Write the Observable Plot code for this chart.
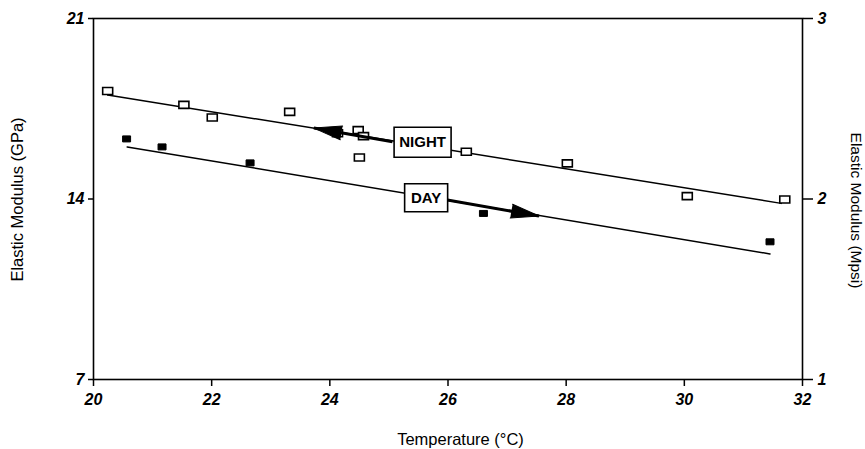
<!DOCTYPE html>
<html>
<head>
<meta charset="utf-8">
<script src="https://cdn.jsdelivr.net/npm/d3@7"></script>
<script src="https://cdn.jsdelivr.net/npm/@observablehq/plot@0.6"></script>
<style>
  body { margin: 0; background: #fff; }
  #chart svg { font-family: "Liberation Sans", Arial, sans-serif; }
</style>
</head>
<body>
<div id="chart"></div>
<script>
// ---- data ----
const xTicks = [20, 22, 24, 26, 28, 30, 32];
const gpaTicks = [7, 14, 21];
const mpsiTicks = [1, 2, 3];

// Night (open squares)
const nightT = [20.24, 21.53, 22.01, 23.32, 24.13, 24.48, 24.57, 24.50, 26.31, 28.02, 30.05, 31.70];
const nightE = [18.19, 17.65, 17.16, 17.38, 16.55, 16.67, 16.44, 15.61, 15.83, 15.38, 14.11, 13.98];
// Day (filled squares)
const dayT = [20.56, 21.16, 22.65, 26.60, 31.45];
const dayE = [16.33, 16.02, 15.40, 13.44, 12.34];
// Fitted lines (end points)
const nightFitT = [20.24, 31.64];
const nightFitE = [18.03, 13.83];
const dayFitT = [20.57, 31.45];
const dayFitE = [16.02, 11.87];
// Annotations: label centre, arrow start (at box) and arrow tip
const labels = ["NIGHT", "DAY"];
const labelT = [25.57, 25.63];
const labelE = [16.20, 14.05];
const arrowT1 = [25.06, 25.99];
const arrowE1 = [16.22, 13.96];
const arrowT2 = [23.73, 27.54];
const arrowE2 = [16.75, 13.34];

// ---- layout ----
const W = 865, H = 449, ML = 93, MR = 63, MT = 18, MB = 70;
const xDom = [20, 32], yDom = [7, 21];
const pxX = (W - ML - MR) / (xDom[1] - xDom[0]);
const pxY = (H - MT - MB) / (yDom[1] - yDom[0]);

const night = nightT.map((t, i) => ({t, e: nightE[i]}));
const day = dayT.map((t, i) => ({t, e: dayE[i]}));
const nightFit = nightFitT.map((t, i) => ({t, e: nightFitE[i]}));
const dayFit = dayFitT.map((t, i) => ({t, e: dayFitE[i]}));
const ann = labels.map((l, i) => ({
  label: l, t: labelT[i], e: labelE[i],
  t1: arrowT1[i], e1: arrowE1[i], t2: arrowT2[i], e2: arrowE2[i],
  rot: Math.atan2((arrowT2[i] - arrowT1[i]) * pxX, (arrowE2[i] - arrowE1[i]) * pxY) * 180 / Math.PI
}));

const rectSym = (w, h) => ({ draw(ctx) { ctx.rect(-w / 2, -h / 2, w, h); } });
const boxW = {NIGHT: 57, DAY: 43};
const boxH = {NIGHT: 30, DAY: 28};

const tickFont = {fontSize: 16, fontWeight: "bold", fontStyle: "italic", fill: "black"};

const chart = Plot.plot({
  width: W, height: H,
  marginLeft: ML, marginRight: MR, marginTop: MT, marginBottom: MB,
  x: {domain: xDom},
  y: {domain: yDom},
  style: {background: "white", color: "black"},
  marks: [
    Plot.axisX({ticks: xTicks, tickSize: 7, tickPadding: 7, strokeWidth: 1.5, label: null, ...tickFont}),
    Plot.axisY({anchor: "left", ticks: gpaTicks, tickSize: 5, tickPadding: 4, strokeWidth: 1.5, label: null, ...tickFont}),
    Plot.axisY({anchor: "right", ticks: mpsiTicks.map(m => m * 7), tickFormat: d => String(d / 7),
      tickSize: 10, tickPadding: 5, strokeWidth: 1.5, label: null, ...tickFont}),
    Plot.frame({stroke: "black", strokeWidth: 1.6}),
    Plot.line(nightFit, {x: "t", y: "e", stroke: "black", strokeWidth: 1.5}),
    Plot.line(dayFit, {x: "t", y: "e", stroke: "black", strokeWidth: 1.5}),
    Plot.dot(night, {x: "t", y: "e", symbol: rectSym(10, 7), fill: "white", stroke: "black", strokeWidth: 1.6}),
    Plot.dot(day, {x: "t", y: "e", symbol: rectSym(8, 6), fill: "black", stroke: "black", strokeWidth: 1}),
    Plot.link(ann, {x1: "t1", y1: "e1", x2: "t2", y2: "e2", stroke: "black", strokeWidth: 3}),
    Plot.vector(ann, {x: "t2", y: "e2", rotate: "rot", length: 28, r: 7, shape: "spike", anchor: "end",
      fill: "black", stroke: "black", strokeWidth: 1}),
    Plot.dot(ann.filter(d => d.label === "NIGHT"), {x: "t", y: "e", symbol: rectSym(boxW.NIGHT, boxH.NIGHT), fill: "white", stroke: "black", strokeWidth: 1.6}),
    Plot.dot(ann.filter(d => d.label === "DAY"), {x: "t", y: "e", symbol: rectSym(boxW.DAY, boxH.DAY), fill: "white", stroke: "black", strokeWidth: 1.6}),
    Plot.text(ann, {x: "t", y: "e", text: "label", fontSize: 15, fontWeight: "bold", fill: "black"}),
    Plot.text(["Elastic Modulus (GPa)"], {frameAnchor: "left", rotate: -90, dx: -76, dy: 0.5,
      textAnchor: "middle", lineAnchor: "middle", fontSize: 16.5, fill: "black", ariaLabel: "lbl-left"}),
    Plot.text(["Elastic Modulus (Mpsi)"], {frameAnchor: "right", rotate: 90, dx: 53, dy: 11.5,
      textAnchor: "middle", lineAnchor: "middle", fontSize: 15.5, fill: "black", ariaLabel: "lbl-right"}),
    Plot.text(["Temperature (°C)"], {frameAnchor: "bottom", dx: 12.5, dy: 60,
      textAnchor: "middle", lineAnchor: "middle", fontSize: 16.5, fill: "black", ariaLabel: "lbl-bottom"})
  ]
});
document.getElementById("chart").appendChild(chart);
d3.select(chart).selectAll('g[aria-label="lbl-left"] text').style("letter-spacing", "0.4px");
d3.select(chart).selectAll('g[aria-label="lbl-right"] text').style("letter-spacing", "2px");
d3.select(chart).selectAll('g[aria-label="lbl-bottom"] text').style("letter-spacing", "1px");
</script>
</body>
</html>
